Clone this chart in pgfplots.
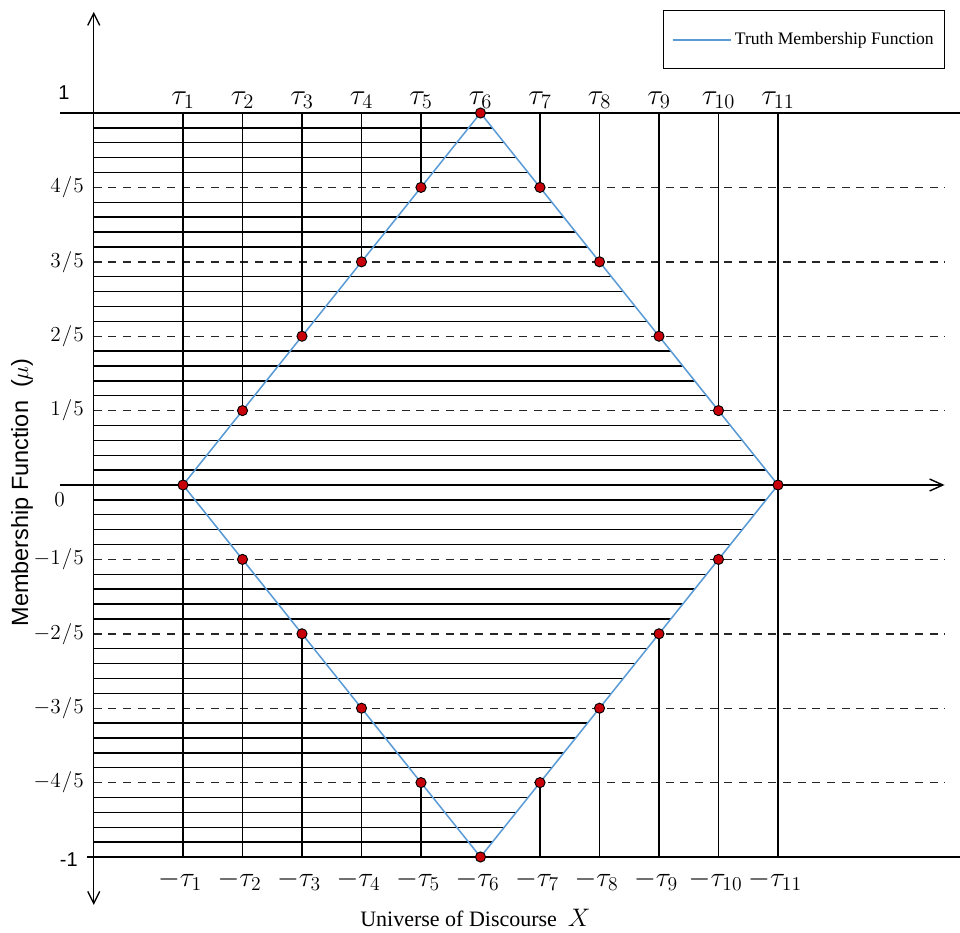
\RequirePackage{fix-cm}
\documentclass[border=0pt]{standalone}
\usepackage{graphicx}
\usepackage{pgfplots}
\pgfplotsset{compat=1.18}
\usepackage{fontspec}
\setmainfont{Liberation Serif}
\setsansfont{Liberation Sans}
\usetikzlibrary{arrows.meta}
\definecolor{tblue}{RGB}{91,155,213}
\definecolor{tred}{RGB}{200,0,10}
\newcommand{\tl}[1]{\scalebox{1.1}{$\tau_{#1}$}}
\newcommand{\ntl}[1]{\scalebox{1.05}{$-\tau_{#1}$}}
\begin{document}
\begin{tikzpicture}
\begin{axis}[name=ax, scale only axis, width=720pt, height=699pt,
  xmin=-2.0756, xmax=14.059, ymin=-1.2016, ymax=1.3038,
  hide axis, clip=false, unbounded coords=jump,
  legend style={at={(0.9844,0.9893)}, anchor=north east, draw=black, line width=0.9pt,
    font=\fontsize{13.2}{15}\selectfont, inner xsep=6pt, inner ysep=14.5pt},
  legend cell align=left,
  legend image code/.code={\draw[#1, tblue, line width=1.3pt] (0pt,0pt) -- (44pt,0pt);}]
% hatch lines
\addplot[black, line width=1.05pt, forget plot] coordinates {
(-0.5,0.04) (10.8,0.04) (-0.5,nan)
(-0.5,0.08) (10.6,0.08) (-0.5,nan)
(-0.5,0.12) (10.4,0.12) (-0.5,nan)
(-0.5,0.16) (10.2,0.16) (-0.5,nan)
(-0.5,0.24) (9.8,0.24) (-0.5,nan)
(-0.5,0.28) (9.6,0.28) (-0.5,nan)
(-0.5,0.32) (9.4,0.32) (-0.5,nan)
(-0.5,0.36) (9.2,0.36) (-0.5,nan)
(-0.5,0.44) (8.8,0.44) (-0.5,nan)
(-0.5,0.48) (8.6,0.48) (-0.5,nan)
(-0.5,0.52) (8.4,0.52) (-0.5,nan)
(-0.5,0.56) (8.2,0.56) (-0.5,nan)
(-0.5,0.64) (7.8,0.64) (-0.5,nan)
(-0.5,0.68) (7.6,0.68) (-0.5,nan)
(-0.5,0.72) (7.4,0.72) (-0.5,nan)
(-0.5,0.76) (7.2,0.76) (-0.5,nan)
(-0.5,0.84) (6.8,0.84) (-0.5,nan)
(-0.5,0.88) (6.6,0.88) (-0.5,nan)
(-0.5,0.92) (6.4,0.92) (-0.5,nan)
(-0.5,0.96) (6.2,0.96) (-0.5,nan)
(-0.5,-0.04) (10.8,-0.04) (-0.5,nan)
(-0.5,-0.08) (10.6,-0.08) (-0.5,nan)
(-0.5,-0.12) (10.4,-0.12) (-0.5,nan)
(-0.5,-0.16) (10.2,-0.16) (-0.5,nan)
(-0.5,-0.24) (9.8,-0.24) (-0.5,nan)
(-0.5,-0.28) (9.6,-0.28) (-0.5,nan)
(-0.5,-0.32) (9.4,-0.32) (-0.5,nan)
(-0.5,-0.36) (9.2,-0.36) (-0.5,nan)
(-0.5,-0.44) (8.8,-0.44) (-0.5,nan)
(-0.5,-0.48) (8.6,-0.48) (-0.5,nan)
(-0.5,-0.52) (8.4,-0.52) (-0.5,nan)
(-0.5,-0.56) (8.2,-0.56) (-0.5,nan)
(-0.5,-0.64) (7.8,-0.64) (-0.5,nan)
(-0.5,-0.68) (7.6,-0.68) (-0.5,nan)
(-0.5,-0.72) (7.4,-0.72) (-0.5,nan)
(-0.5,-0.76) (7.2,-0.76) (-0.5,nan)
(-0.5,-0.84) (6.8,-0.84) (-0.5,nan)
(-0.5,-0.88) (6.6,-0.88) (-0.5,nan)
(-0.5,-0.92) (6.4,-0.92) (-0.5,nan)
(-0.5,-0.96) (6.2,-0.96)
};
% dashed levels
\addplot[black!85, line width=1.05pt, dash pattern=on 6pt off 5pt, forget plot] coordinates {
(-0.5,0.8) (13.8,0.8) (-0.5,nan)
(-0.5,0.6) (13.8,0.6) (-0.5,nan)
(-0.5,0.4) (13.8,0.4) (-0.5,nan)
(-0.5,0.2) (13.8,0.2) (-0.5,nan)
(-0.5,-0.2) (13.8,-0.2) (-0.5,nan)
(-0.5,-0.4) (13.8,-0.4) (-0.5,nan)
(-0.5,-0.6) (13.8,-0.6) (-0.5,nan)
(-0.5,-0.8) (13.8,-0.8)
};
% lines at 1 and -1
\addplot[black, line width=1.05pt, forget plot] coordinates {
(-1.067,1) (14.059,1) (-1.067,nan)
(-0.613,-1) (14.059,-1)
};
% axes
\addplot[black, line width=1.05pt, -{Straight Barb[length=10pt,width=9pt]}, forget plot] coordinates {(-1.067,0) (13.8,0)};
\addplot[black, line width=1.05pt, {Straight Barb[length=9pt,width=9pt]}-{Straight Barb[length=9pt,width=9pt]}, forget plot] coordinates {(-0.5,-1.129) (-0.5,1.272)};
% vertical drop lines
\addplot[black, line width=1.05pt, forget plot] coordinates {
(1,1) (1,-1) (1,nan)
(11,1) (11,-1) (11,nan)
(2,1) (2,0.2) (2,nan)
(3,1) (3,0.4) (3,nan)
(4,1) (4,0.6) (4,nan)
(5,1) (5,0.8) (5,nan)
(7,1) (7,0.8) (7,nan)
(8,1) (8,0.6) (8,nan)
(9,1) (9,0.4) (9,nan)
(10,1) (10,0.2) (10,nan)
(2,-1) (2,-0.2) (2,nan)
(3,-1) (3,-0.4) (3,nan)
(4,-1) (4,-0.6) (4,nan)
(5,-1) (5,-0.8) (5,nan)
(7,-1) (7,-0.8) (7,nan)
(8,-1) (8,-0.6) (8,nan)
(9,-1) (9,-0.4) (9,nan)
(10,-1) (10,-0.2)
};
% truth membership function
\addplot[tblue, line width=1.15pt] coordinates {(1,0) (6,1) (11,0) (6,-1) (1,0)};
\addlegendentry{Truth Membership Function}
% points
\addplot[only marks, mark=*, mark size=3.8pt, mark options={fill=tred, draw=black, line width=0.7pt}, forget plot] coordinates {
(1,0) (2,0.2) (3,0.4) (4,0.6) (5,0.8) (6,1) (7,0.8) (8,0.6) (9,0.4) (10,0.2)
(11,0) (10,-0.2) (9,-0.4) (8,-0.6) (7,-0.8) (6,-1) (5,-0.8) (4,-0.6) (3,-0.4) (2,-0.2)
};
% top labels
\node[anchor=base, font=\fontsize{20}{24}\selectfont] at (axis cs:1,1.024) {\tl{1}};
\node[anchor=base, font=\fontsize{20}{24}\selectfont] at (axis cs:2,1.024) {\tl{2}};
\node[anchor=base, font=\fontsize{20}{24}\selectfont] at (axis cs:3,1.024) {\tl{3}};
\node[anchor=base, font=\fontsize{20}{24}\selectfont] at (axis cs:4,1.024) {\tl{4}};
\node[anchor=base, font=\fontsize{20}{24}\selectfont] at (axis cs:5,1.024) {\tl{5}};
\node[anchor=base, font=\fontsize{20}{24}\selectfont] at (axis cs:6,1.024) {\tl{6}};
\node[anchor=base, font=\fontsize{20}{24}\selectfont] at (axis cs:7,1.024) {\tl{7}};
\node[anchor=base, font=\fontsize{20}{24}\selectfont] at (axis cs:8,1.024) {\tl{8}};
\node[anchor=base, font=\fontsize{20}{24}\selectfont] at (axis cs:9,1.024) {\tl{9}};
\node[anchor=base, font=\fontsize{20}{24}\selectfont] at (axis cs:10,1.024) {\tl{10}};
\node[anchor=base, font=\fontsize{20}{24}\selectfont] at (axis cs:11,1.024) {\tl{11}};
\node[anchor=base, font=\fontsize{20}{24}\selectfont] at (axis cs:0.95,-1.078) {\ntl{1}};
\node[anchor=base, font=\fontsize{20}{24}\selectfont] at (axis cs:1.95,-1.078) {\ntl{2}};
\node[anchor=base, font=\fontsize{20}{24}\selectfont] at (axis cs:2.95,-1.078) {\ntl{3}};
\node[anchor=base, font=\fontsize{20}{24}\selectfont] at (axis cs:3.95,-1.078) {\ntl{4}};
\node[anchor=base, font=\fontsize{20}{24}\selectfont] at (axis cs:4.95,-1.078) {\ntl{5}};
\node[anchor=base, font=\fontsize{20}{24}\selectfont] at (axis cs:5.95,-1.078) {\ntl{6}};
\node[anchor=base, font=\fontsize{20}{24}\selectfont] at (axis cs:6.95,-1.078) {\ntl{7}};
\node[anchor=base, font=\fontsize{20}{24}\selectfont] at (axis cs:7.95,-1.078) {\ntl{8}};
\node[anchor=base, font=\fontsize{20}{24}\selectfont] at (axis cs:8.95,-1.078) {\ntl{9}};
\node[anchor=base, font=\fontsize{20}{24}\selectfont] at (axis cs:9.95,-1.078) {\ntl{10}};
\node[anchor=base, font=\fontsize{20}{24}\selectfont] at (axis cs:10.95,-1.078) {\ntl{11}};
% y tick labels
\begin{scope}[every node/.style={anchor=east, font=\fontsize{16}{18}\selectfont, inner sep=0pt}]
\node at (axis cs:-0.66,0.8) {$4\mkern1mu/\mkern1mu5$};
\node at (axis cs:-0.66,0.6) {$3\mkern1mu/\mkern1mu5$};
\node at (axis cs:-0.66,0.4) {$2\mkern1mu/\mkern1mu5$};
\node at (axis cs:-0.66,0.2) {$1\mkern1mu/\mkern1mu5$};
\node at (axis cs:-0.66,-0.2) {$-1\mkern1mu/\mkern1mu5$};
\node at (axis cs:-0.66,-0.4) {$-2\mkern1mu/\mkern1mu5$};
\node at (axis cs:-0.66,-0.6) {$-3\mkern1mu/\mkern1mu5$};
\node at (axis cs:-0.66,-0.8) {$-4\mkern1mu/\mkern1mu5$};
\node at (axis cs:-0.98,-0.04) {$0$};
\end{scope}
\node[anchor=center, font=\sffamily\fontsize{15}{18}\selectfont] at (axis cs:-1.0,1.056) {1};
\node[anchor=east, inner sep=0pt, font=\sffamily\fontsize{15}{18}\selectfont] at (axis cs:-0.765,-1.008) {-1};
% axis titles
\node[rotate=90, anchor=center, font=\sffamily\fontsize{17.6}{21}\selectfont] at (axis cs:-1.706,-0.02) {Membership Function\ \ ($\mu$)};
\node[anchor=base west, inner sep=0pt, font=\fontsize{16.5}{20}\selectfont] at (axis cs:3.975,-1.188) {Universe of Discourse\ \ {\fontsize{19}{22}\selectfont$X$}};
\end{axis}
\pgfresetboundingbox
\path[use as bounding box] (ax.south west) rectangle (ax.north east);
\end{tikzpicture}
\end{document}
